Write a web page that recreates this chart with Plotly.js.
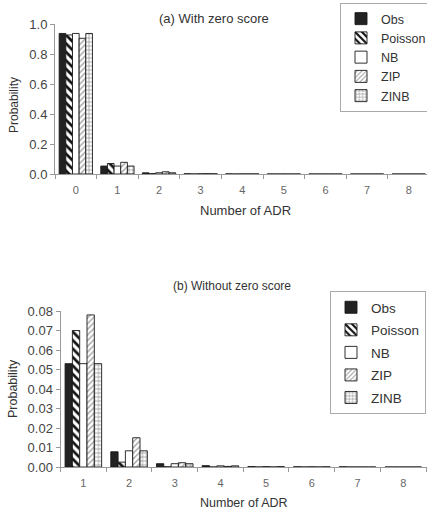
<!DOCTYPE html>
<html>
<head>
<meta charset="utf-8">
<script src="https://cdn.plot.ly/plotly-3.0.1.min.js"></script>
<style>html,body{margin:0;padding:0;background:#fff;}#chart{width:427px;height:511px;}</style>
</head>
<body>
<div id="chart"></div>
<script>
// Panel (a): with zero score, counts 0..8
const catsA = [0, 1, 2, 3, 4, 5, 6, 7, 8];
const obsA     = [0.937, 0.053, 0.0078, 0.0017, 0.0007, 0.0002, 0.0001, 0.0001, 0];
const poissonA = [0.927, 0.070, 0.0025, 0.0001, 0, 0, 0, 0, 0];
const nbA      = [0.937, 0.053, 0.0083, 0.0017, 0.0006, 0.0002, 0.0001, 0, 0];
const zipA     = [0.905, 0.078, 0.015, 0.0022, 0.0003, 0, 0, 0, 0];
const zinbA    = [0.937, 0.053, 0.0083, 0.0017, 0.0006, 0.0002, 0.0001, 0, 0];

// Panel (b): without zero score, counts 1..8
const catsB = [1, 2, 3, 4, 5, 6, 7, 8];
const obsB     = [0.053, 0.0078, 0.0017, 0.0007, 0.0002, 0.0001, 0.0001, 0];
const poissonB = [0.070, 0.0025, 0.0001, 0, 0, 0, 0, 0];
const nbB      = [0.053, 0.0083, 0.0017, 0.0006, 0.0002, 0.0001, 0, 0];
const zipB     = [0.078, 0.015, 0.0022, 0.0003, 0, 0, 0, 0];
const zinbB    = [0.053, 0.0083, 0.0017, 0.0006, 0.0002, 0.0001, 0, 0];

const seriesNames = ['Obs', 'Poisson', 'NB', 'ZIP', 'ZINB'];
const tickLabelsA = catsA.map(String);
const tickLabelsB = catsB.map(String);

const lineStyle = {color: '#1a1a1a', width: 0.9};
const styles = {
  'Obs':     {color: '#222', line: lineStyle},
  'Poisson': {color: '#fff', line: lineStyle, pattern: {shape: '\\', fgcolor: '#111', bgcolor: '#fff', size: 6, solidity: 0.45}},
  'NB':      {color: '#fff', line: lineStyle},
  'ZIP':     {color: '#fff', line: lineStyle, pattern: {shape: '/', fgcolor: '#999', bgcolor: '#fff', size: 4, solidity: 0.3}},
  'ZINB':    {color: '#fff', line: lineStyle, pattern: {shape: '+', fgcolor: '#888', bgcolor: '#fff', size: 4, solidity: 0.3}}
};

const dataA = [obsA, poissonA, nbA, zipA, zinbA];
const dataB = [obsB, poissonB, nbB, zipB, zinbB];

const traces = [];
seriesNames.forEach((n, i) => {
  traces.push({type: 'bar', x: catsA, y: dataA[i], name: n, marker: styles[n],
    xaxis: 'x', yaxis: 'y', legend: 'legend', legendgroup: 'a' + i});
});
seriesNames.forEach((n, i) => {
  traces.push({type: 'bar', x: catsB, y: dataB[i], name: n, marker: styles[n],
    xaxis: 'x2', yaxis: 'y2', legend: 'legend2', legendgroup: 'b' + i});
});

const W = 427, H = 511;
const font = {family: 'Liberation Sans, Arial, sans-serif', color: '#333'};
const axisCommon = {showgrid: false, zeroline: false, showline: true, linecolor: '#999', linewidth: 1};

const layout = {
  width: W, height: H,
  margin: {l: 0, r: 0, t: 0, b: 0, autoexpand: false},
  paper_bgcolor: '#fff', plot_bgcolor: '#fff',
  font: Object.assign({size: 12}, font),
  barmode: 'group', bargap: 0.2, bargroupgap: 0,
  xaxis: Object.assign({}, axisCommon, {
    domain: [55 / W, 1], range: [-0.5, 8.44], anchor: 'y',
    tickvals: catsA, ticktext: tickLabelsA, ticks: '',
    tickfont: {size: 11, color: '#666'}, ticklabelstandoff: 6,
    minor: {tick0: 0.5, dtick: 1, ticks: 'outside', ticklen: 4, tickcolor: '#999'}
  }),
  yaxis: Object.assign({}, axisCommon, {
    domain: [337 / H, 487 / H], range: [0, 1], anchor: 'x',
    tickvals: [0, 0.2, 0.4, 0.6, 0.8, 1.0], tickformat: '.1f',
    ticks: 'outside', ticklen: 4, tickcolor: '#999', tickfont: {size: 13, color: '#444'}
  }),
  xaxis2: Object.assign({}, axisCommon, {
    domain: [60.5 / W, 1], range: [0.5, 8.52], anchor: 'y2',
    tickvals: catsB, ticktext: tickLabelsB, ticks: '',
    tickfont: {size: 11, color: '#666'}, ticklabelstandoff: 6,
    minor: {tick0: 0.5, dtick: 1, ticks: 'outside', ticklen: 4, tickcolor: '#999'}
  }),
  yaxis2: Object.assign({}, axisCommon, {
    domain: [44 / H, 200 / H], range: [0, 0.08], anchor: 'x2',
    tickvals: [0, 0.01, 0.02, 0.03, 0.04, 0.05, 0.06, 0.07, 0.08], tickformat: '.2f',
    ticks: 'outside', ticklen: 4, tickcolor: '#999', tickfont: {size: 13, color: '#444'}
  }),
  legend: {
    x: 340 / W, y: 1 - 3 / H, xanchor: 'left', yanchor: 'top',
    bordercolor: '#aaa', borderwidth: 1, bgcolor: '#fff',
    font: {size: 12.5, color: '#333'}, tracegroupgap: 0, itemwidth: 30
  },
  legend2: {
    x: 330 / W, y: 1 - 291 / H, xanchor: 'left', yanchor: 'top',
    bordercolor: '#aaa', borderwidth: 1, bgcolor: '#fff',
    font: {size: 13.5, color: '#333'}, tracegroupgap: 2, itemwidth: 30
  },
  annotations: [
    {text: '(a) With zero score', x: 214 / W, y: 1 - 18 / H, xref: 'paper', yref: 'paper',
     showarrow: false, xanchor: 'center', yanchor: 'middle', font: {size: 13, color: '#333'}},
    {text: 'Number of ADR', x: 245 / W, y: 1 - 210 / H, xref: 'paper', yref: 'paper',
     showarrow: false, xanchor: 'center', yanchor: 'middle', font: {size: 13, color: '#333'}},
    {text: 'Probability', x: 14 / W, y: 1 - 105 / H, xref: 'paper', yref: 'paper', textangle: -90,
     showarrow: false, xanchor: 'center', yanchor: 'middle', font: {size: 12, color: '#333'}},
    {text: '(b) Without zero score', x: 232 / W, y: 1 - 286 / H, xref: 'paper', yref: 'paper',
     showarrow: false, xanchor: 'center', yanchor: 'middle', font: {size: 12, color: '#333'}},
    {text: 'Number of ADR', x: 244 / W, y: 1 - 503 / H, xref: 'paper', yref: 'paper',
     showarrow: false, xanchor: 'center', yanchor: 'middle', font: {size: 12.5, color: '#333'}},
    {text: 'Probability', x: 13 / W, y: 1 - 389 / H, xref: 'paper', yref: 'paper', textangle: -90,
     showarrow: false, xanchor: 'center', yanchor: 'middle', font: {size: 12.5, color: '#333'}}
  ]
};

Plotly.newPlot('chart', traces, layout, {displayModeBar: false, staticPlot: true});
</script>
</body>
</html>
